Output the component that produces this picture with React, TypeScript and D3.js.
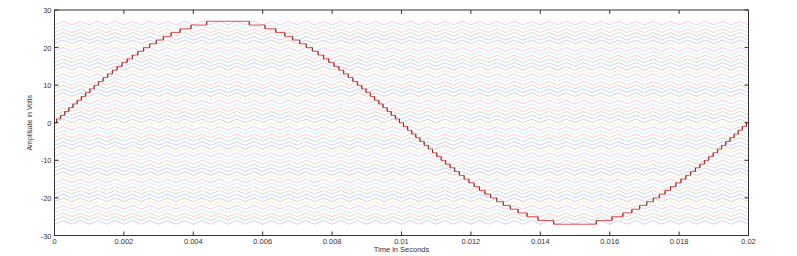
import React from "react";
import * as d3 from "d3";

// ---- data ----
const xTicks = [0, 0.002, 0.004, 0.006, 0.008, 0.01, 0.012, 0.014, 0.016, 0.018, 0.02];
const xTickLabels = ["0", "0.002", "0.004", "0.006", "0.008", "0.01", "0.012", "0.014", "0.016", "0.018", "0.02"];
const yTicks = [-30, -20, -10, 0, 10, 20, 30];
const yTickLabels = ["-30", "-20", "-10", "0", "10", "20", "30"];

// lower bound of each level-shifted carrier band (54 carriers, 1 V each)
const carrierLevels = [
  -27, -26, -25, -24, -23, -22, -21, -20, -19, -18, -17, -16, -15, -14, -13, -12, -11, -10,
  -9, -8, -7, -6, -5, -4, -3, -2, -1, 0, 1, 2, 3, 4, 5, 6, 7, 8,
  9, 10, 11, 12, 13, 14, 15, 16, 17, 18, 19, 20, 21, 22, 23, 24, 25, 26,
];
const carrierHeight = [1];
const carrierPeriod = [0.0005]; // s
const carrierColors = ["#5a5aff", "#4c9a4c", "#ff5a5a", "#50c8c8", "#cc50cc", "#c8c850", "#6a6a6a"];

// quarter-wave switching instants of the staircase output (ms), step k -> level k
const stepTimesMs = [
  0.059, 0.177, 0.295, 0.414, 0.533, 0.653, 0.774, 0.896, 1.019, 1.145, 1.271, 1.401, 1.532, 1.667,
  1.805, 1.946, 2.093, 2.245, 2.403, 2.569, 2.744, 2.932, 3.136, 3.361, 3.620, 3.934, 4.386,
];
const halfPeriodMs = [10];
const fullPeriodMs = [20];

const W = 797, H = 256;
const m = { left: 54.5, right: 748.5, top: 10, bottom: 235.5 };

export default function App() {
  const x = d3.scaleLinear().domain([0, 0.02]).range([m.left, m.right]);
  const y = d3.scaleLinear().domain([-30, 30]).range([m.bottom, m.top]);

  const T = carrierPeriod[0];
  const nHalf = Math.round(0.02 / (T / 2));
  const line = d3.line<[number, number]>().x((d) => x(d[0])).y((d) => y(d[1]));
  const carriers = carrierLevels.map((lv, i) => {
    const pts: [number, number][] = [];
    for (let j = 0; j <= nHalf; j++) {
      pts.push([(j * T) / 2, j % 2 === 0 ? lv : lv + carrierHeight[0]]);
    }
    return { d: line(pts) || "", color: carrierColors[i % carrierColors.length] };
  });

  const trans: { t: number; from: number; to: number }[] = [];
  const hp = halfPeriodMs[0], fp = fullPeriodMs[0];
  stepTimesMs.forEach((t, k) => trans.push({ t, from: k, to: k + 1 }));
  [...stepTimesMs].reverse().forEach((t, i) => {
    const k = stepTimesMs.length - i;
    trans.push({ t: hp - t, from: k, to: k - 1 });
  });
  stepTimesMs.forEach((t, k) => trans.push({ t: hp + t, from: -k, to: -k - 1 }));
  [...stepTimesMs].reverse().forEach((t, i) => {
    const k = stepTimesMs.length - i;
    trans.push({ t: fp - t, from: -k, to: -k + 1 });
  });
  const stairPts: [number, number][] = [[0, 0]];
  trans.forEach((tr) => {
    stairPts.push([tr.t / 1000, tr.from]);
    stairPts.push([tr.t / 1000, tr.to]);
  });
  stairPts.push([0.02, 0]);
  const stairD = line(stairPts) || "";

  const font = "'Liberation Sans', Arial, sans-serif";

  return (
    <svg width={W} height={H} style={{ position: "absolute", left: 0, top: 0, background: "#fff" }}>
      <rect x={0} y={0} width={W} height={H} fill="#fff" />
      <defs>
        <clipPath id="clip">
          <rect x={m.left} y={m.top} width={m.right - m.left} height={m.bottom - m.top} />
        </clipPath>
      </defs>
      <g clipPath="url(#clip)">
        {carriers.map((c, i) => (
          <path key={i} d={c.d} fill="none" stroke={c.color} strokeWidth={0.6} strokeOpacity={0.5} />
        ))}
        <path d={stairD} fill="none" stroke="#e04040" strokeWidth={0.9} />
        {trans.map((tr, i) => (
          <line
            key={i}
            x1={x(tr.t / 1000)}
            x2={x(tr.t / 1000)}
            y1={y(tr.from)}
            y2={y(tr.to)}
            stroke="#602020"
            strokeWidth={0.8}
          />
        ))}
      </g>
      <rect x={m.left} y={m.top} width={m.right - m.left} height={m.bottom - m.top} fill="none" stroke="#333" strokeWidth={1} />
      {xTicks.map((t, i) => (
        <g key={i}>
          <line x1={x(t)} x2={x(t)} y1={m.bottom} y2={m.bottom - 4} stroke="#333" />
          <line x1={x(t)} x2={x(t)} y1={m.top} y2={m.top + 4} stroke="#333" />
          <text x={x(t)} y={m.bottom + 8} fontSize={7.5} fontFamily={font} fill="#333" textAnchor="middle">
            {xTickLabels[i]}
          </text>
        </g>
      ))}
      {yTicks.map((t, i) => (
        <g key={i}>
          <line x1={m.left} x2={m.left + 4} y1={y(t)} y2={y(t)} stroke="#333" />
          <line x1={m.right} x2={m.right - 4} y1={y(t)} y2={y(t)} stroke="#333" />
          <text x={m.left - 3} y={y(t) + 3} fontSize={7.5} fontFamily={font} fill="#333" textAnchor="end">
            {yTickLabels[i]}
          </text>
        </g>
      ))}
      <text x={(m.left + m.right) / 2} y={251.5} fontSize={7.5} fontFamily={font} fill="#333" textAnchor="middle">
        Time in Seconds
      </text>
      <text
        transform={`translate(32,${(m.top + m.bottom) / 2}) rotate(-90)`}
        fontSize={7}
        fontFamily={font}
        fill="#333"
        textAnchor="middle"
      >
        Amplitude in Volts
      </text>
    </svg>
  );
}
